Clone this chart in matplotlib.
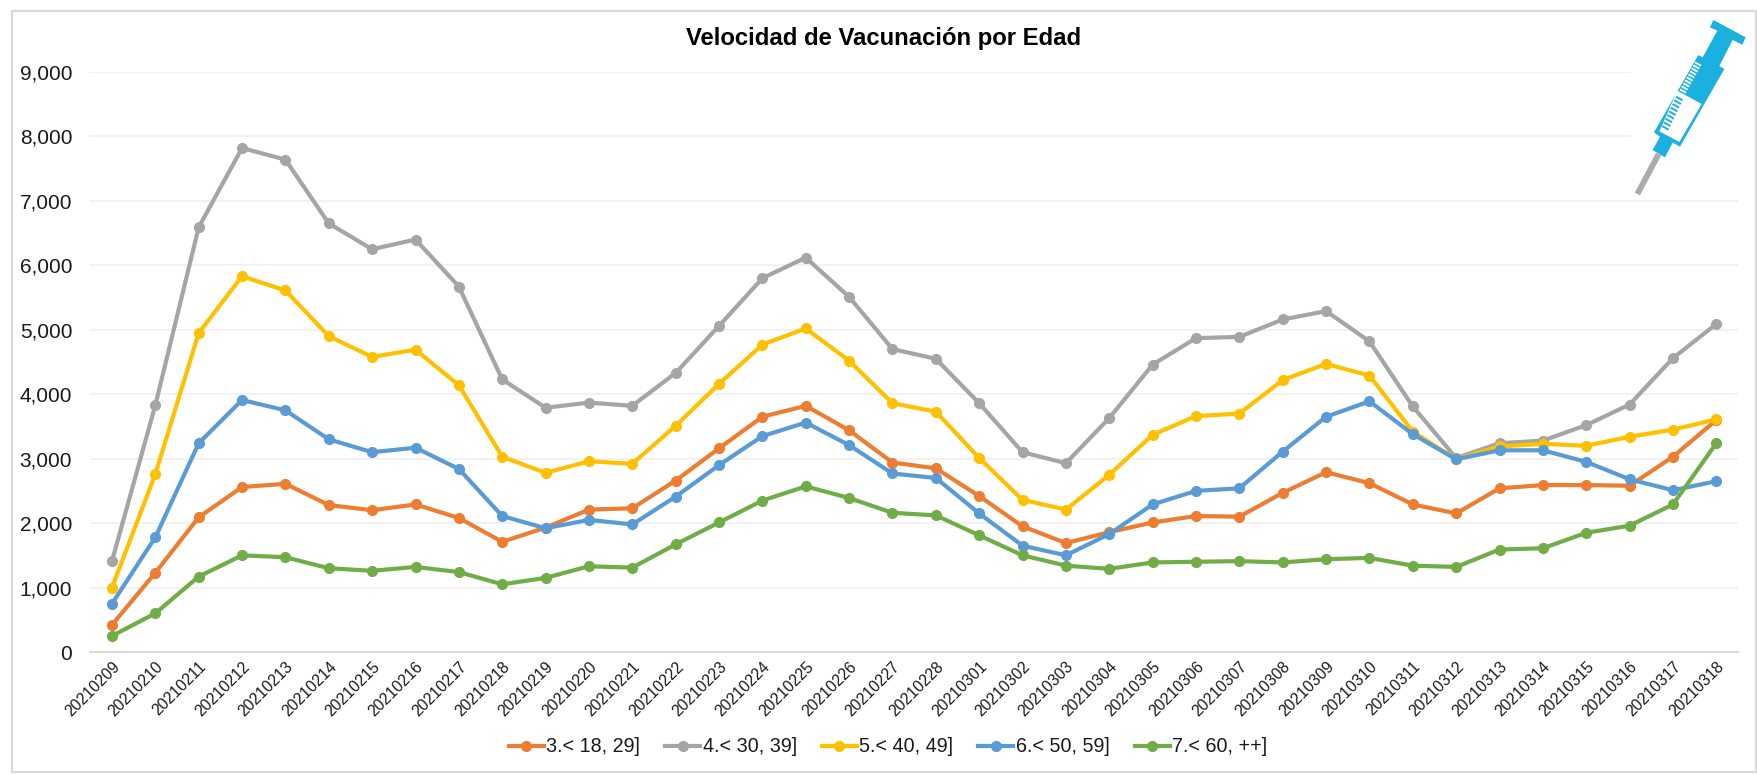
#!/usr/bin/env python3

import numpy as np
import matplotlib
matplotlib.use('Agg')
import matplotlib.pyplot as plt
from matplotlib.patches import Polygon, Rectangle

plt.rcParams['font.family'] = ['Liberation Sans', 'DejaVu Sans']

W, H = 1758, 774

dates = ['20210209', '20210210', '20210211', '20210212', '20210213', '20210214', '20210215',
         '20210216', '20210217', '20210218', '20210219', '20210220', '20210221', '20210222',
         '20210223', '20210224', '20210225', '20210226', '20210227', '20210228', '20210301',
         '20210302', '20210303', '20210304', '20210305', '20210306', '20210307', '20210308',
         '20210309', '20210310', '20210311', '20210312', '20210313', '20210314', '20210315',
         '20210316', '20210317', '20210318']

edad_18 = [420, 1230, 2090, 2560, 2610, 2280, 2200, 2290, 2080, 1710, 1930, 2210, 2230, 2660,
           3160, 3650, 3820, 3440, 2940, 2850, 2420, 1950, 1690, 1860, 2010, 2110, 2100, 2470,
           2790, 2620, 2290, 2150, 2540, 2590, 2590, 2580, 3030, 3600]
edad_30 = [1410, 3830, 6590, 7820, 7640, 6650, 6250, 6400, 5670, 4230, 3790, 3870, 3820, 4330,
           5060, 5800, 6120, 5510, 4700, 4550, 3860, 3100, 2930, 3630, 4460, 4870, 4890, 5160,
           5290, 4820, 3810, 3010, 3240, 3280, 3520, 3840, 4560, 5090]
edad_40 = [1000, 2760, 4950, 5830, 5610, 4900, 4580, 4690, 4140, 3030, 2780, 2960, 2920, 3510,
           4160, 4770, 5020, 4520, 3860, 3730, 3010, 2360, 2210, 2750, 3370, 3660, 3700, 4220,
           4470, 4290, 3420, 2990, 3190, 3230, 3200, 3340, 3450, 3610]
edad_50 = [750, 1780, 3240, 3910, 3750, 3300, 3100, 3170, 2840, 2110, 1920, 2050, 1980, 2410,
           2900, 3350, 3560, 3210, 2770, 2700, 2150, 1650, 1500, 1830, 2290, 2500, 2540, 3110,
           3650, 3890, 3380, 2990, 3130, 3130, 2950, 2680, 2510, 2650]
edad_60 = [250, 600, 1170, 1500, 1470, 1300, 1260, 1320, 1240, 1050, 1150, 1330, 1310, 1670,
           2010, 2350, 2570, 2390, 2160, 2120, 1810, 1500, 1340, 1290, 1390, 1400, 1410, 1390,
           1440, 1460, 1340, 1320, 1590, 1610, 1850, 1960, 2290, 3240]

series = [('3.< 18, 29]', edad_18, '#ED7D31'),
          ('4.< 30, 39]', edad_30, '#A5A5A5'),
          ('5.< 40, 49]', edad_40, '#FFC000'),
          ('6.< 50, 59]', edad_50, '#5B9BD5'),
          ('7.< 60, ++]', edad_60, '#70AD47')]

fig = plt.figure(figsize=(W / 100, H / 100), dpi=100)

# Outer chart border
fig.add_artist(Rectangle((12 / W, 1 - 772 / H), (1756 - 12) / W, (772 - 11) / H,
                         transform=fig.transFigure, fill=False, ec='#D9D9D9', lw=1.6))

ax = fig.add_axes([90.3 / W, 1 - 652 / H, (1738 - 90.3) / W, (652 - 72) / H])
x = np.arange(len(dates))
for name, vals, col in series:
    ax.plot(x, vals, color=col, lw=3.0, marker='o', ms=7, label=name, clip_on=False)

ax.set_xlim(-0.5, len(dates) - 0.5)
ax.set_ylim(0, 9000)
ax.set_yticks(np.arange(0, 10000, 1000))
ax.set_yticklabels([f'{v:,}' for v in range(0, 10000, 1000)], fontsize=15, color='#1A1A1A')
ax.set_xticks(x)
ax.set_xticklabels(dates, rotation=45, ha='right', rotation_mode='anchor', fontsize=11.3,
                   color='#1A1A1A')
ax.tick_params(axis='both', length=0)
ax.tick_params(axis='y', pad=13)
ax.tick_params(axis='x', pad=5)
ax.grid(axis='y', color='#F0F0F0', lw=1.2)
ax.set_axisbelow(True)
for s in ['top', 'right', 'left']:
    ax.spines[s].set_visible(False)
ax.spines['bottom'].set_color('#D9D9D9')
ax.spines['bottom'].set_linewidth(1.4)

fig.text(884 / W, 1 - 39 / H, 'Velocidad de Vacunación por Edad', ha='center', va='center',
         fontsize=17.2, fontweight='bold', color='black')

fig.legend(loc='center', bbox_to_anchor=(888 / W, 1 - 747 / H), ncol=5, frameon=False,
           fontsize=14.2, handlelength=1.78, handletextpad=0.12, columnspacing=1.27,
           labelcolor='#1A1A1A')

# Syringe picture, top right (coordinates are those of the 3x crop)
pic = fig.add_axes([1580 / W, 1 - 210 / H, 178 / W, 210 / H], zorder=5)
pic.set_xlim(0, 534)
pic.set_ylim(630, 0)
pic.axis('off')
blue = '#1AB0E0'
pic.add_patch(Rectangle((150, 40), 372, 555, fc='white', ec='none'))
pic.plot([236, 172], [462, 582], color='#ABABAB', lw=4.2, solid_capstyle='butt')
pic.add_patch(Polygon([(400, 60), (497, 112), (487, 134), (458, 120), (418, 198), (433, 207),
                       (300, 440), (278, 428), (255, 472), (218, 450), (240, 410), (222, 397),
                       (355, 165), (368, 172), (412, 92), (390, 82)], fc=blue, ec='none'))
pic.add_patch(Polygon([(292, 272), (365, 312), (298, 426), (238, 394)], fc='white', ec='none'))
for t in np.linspace(0, 1, 10):
    bx, by = 345 + (300 - 345) * t, 187 + (268 - 187) * t
    pic.plot([bx, bx + 18], [by, by + 10], color='white', lw=1.4, solid_capstyle='butt')
for t in np.linspace(0, 1, 9):
    bx, by = 288 + (246 - 288) * t, 290 + (378 - 290) * t
    pic.plot([bx, bx + 20], [by, by + 11], color=blue, lw=1.4, solid_capstyle='butt')

fig.savefig('out.png', dpi=100)
